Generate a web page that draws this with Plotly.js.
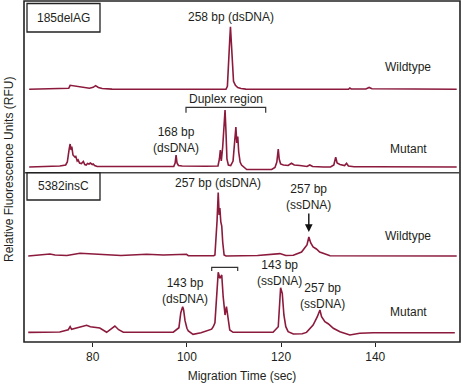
<!DOCTYPE html>
<html>
<head>
<meta charset="utf-8">
<script src="https://cdn.plot.ly/plotly-3.0.1.min.js"></script>
<style>html,body{margin:0;padding:0;background:#fff}#chart{width:461px;height:384px}</style>
</head>
<body>
<div id="chart"></div>
<script>
// ---- Data (migration time in sec, relative fluorescence, baseline = 0) ----
const del185WildTime = [66.5, 74.0, 74.9, 75.2, 76.0, 77.3, 78.5, 79.3, 80.1, 80.6, 81.2, 82.0, 84.1, 90, 100, 108.3, 108.6, 108.9, 109.1, 109.25, 109.45, 109.65, 109.9, 110.3, 110.8, 111.5, 112.5, 120, 134.3, 134.6, 134.9, 138.0, 138.7, 139.3, 145, 157.3];
const del185WildRFU  = [0, 0.3, 1, 4, 3.5, 2.3, 1.2, 1.0, 2.0, 3.6, 1.8, 0.8, 0.2, 0, 0, 0, 3, 25, 50, 62.6, 45, 20, 8, 4, 1.8, 0.8, 0.2, 0, 0, 1.2, 0.3, 0.3, 1.8, 0.5, 0.2, 0];

const del185MutTime = [66.5, 70, 73.0, 74.25, 74.6, 75.0, 75.2, 75.4, 75.55, 75.8, 76.2, 76.4, 76.7, 76.9, 77.2, 77.6, 78.0, 78.3, 78.6, 78.9, 79.2, 79.5, 79.9, 80.1, 80.4, 80.95, 85, 90, 97.2, 97.5, 97.7, 97.9, 98.2, 99, 100, 102.5, 104, 106.6, 106.9, 107.1, 107.3, 107.6, 107.9, 108.1, 108.3, 108.5, 108.8, 109.3, 109.8, 110.2, 110.4, 110.6, 110.8, 111.0, 111.3, 111.6, 112.2, 112.7, 118.0, 118.7, 119.1, 119.4, 119.6, 119.9, 120.5, 121.5, 122.2, 122.8, 124, 125.5, 126.1, 126.7, 129, 130.5, 131.2, 131.6, 131.9, 132.5, 133.5, 133.9, 134.3, 135.5, 137, 139.9, 157.3];
const del185MutRFU  = [0, 0.3, 1.0, 2, 5, 18, 23, 17, 20.5, 12, 10, 10.5, 6, 7, 4, 3.5, 5.5, 2.5, 2, 3.5, 3, 4, 2.5, 3, 1.5, 0.5, 0.5, 0.3, 0.5, 4, 12, 4, 1.5, 1, 0.8, 0.5, 0.7, 1, 8, 17, 6, 20, 45, 57, 35, 8, 2, 1.5, 6, 30, 40, 24, 30.5, 15, 5, 2, 0, -2.5, -2.5, -0.5, 5, 18, 8, 3, 2, 1.5, 3.7, 2, 1.5, 0.5, 2, 0.5, 0, 0, 2, 9.7, 4, 2.5, 1.5, 3.7, 1, 0.3, 0.2, 0.3, 0];

const ins5382WildTime = [66.3, 70.9, 72, 74.5, 77.3, 80, 83.7, 86, 91.45, 95, 99.9, 100.3, 105.7, 105.95, 106.4, 106.65, 106.85, 107.0, 107.2, 107.4, 107.6, 107.9, 108.3, 110, 115, 119.75, 121, 122.6, 124.0, 124.35, 125.0, 125.5, 125.9, 126.3, 126.8, 127.5, 128.2, 128.95, 129.7, 130.4, 157.3];
const ins5382WildRFU  = [0, 2, 1, 0.5, 2.7, 2, 0.7, 0.5, 1.7, 1, 1.7, 0.3, 0.3, 1, 35, 63.5, 41, 48, 34, 30, 14, 1, 0, 0.3, 0.5, 2.4, 0.5, 0.8, 3, 4, 8, 11, 19, 13, 9, 7, 4, 3, 1.5, 0.3, 0];

const ins5382MutTime = [66.3, 73.0, 74.8, 75.2, 75.5, 76.5, 78.7, 79.5, 80.1, 81.5, 82.95, 84.0, 84.7, 85.5, 86.5, 97.1, 98.3, 98.7, 99.1, 99.3, 99.6, 100.0, 100.3, 101.3, 103, 105.25, 105.6, 105.95, 106.3, 106.65, 107.0, 107.4, 107.7, 108.1, 108.4, 108.8, 109.1, 109.8, 112, 118.3, 119.4, 119.9, 120.25, 120.6, 121.0, 121.5, 122.6, 124.5, 125.4, 126.8, 127.7, 128.25, 128.6, 129.3, 130, 131.1, 132.5, 134.6, 136.7, 139.6, 156.9];
const ins5382MutRFU  = [0.3, 0.7, 3, 6, 3.4, 4.5, 7.4, 6, 5.4, 4.7, 0.4, 4, 6.7, 3, 0.5, 0.6, 5, 20, 26, 22.7, 12, 4.4, 1.7, -1.6, 0, 3.5, 6, 10, 40, 60.4, 54.4, 57.7, 36, 17.7, 26, 14.4, 2.7, 0.4, 0.5, 0.5, 6, 45, 39.4, 17.7, 6, 1, -1.3, -1, 0.3, 7.7, 16, 22.7, 16, 11, 9, 4.4, 1, -2.3, -0.5, 0, 0];

const xTicks = [80, 100, 120, 140];

// ---- Styling / layout helpers ----
const FONT = 'Liberation Sans, Arial, Helvetica, sans-serif';
const LINE = '#8b1a3c';
const TXT = '#231f20';
const WILD_OFFSET_TOP = 77.7;   // vertical stacking of wildtype trace above mutant
const WILD_OFFSET_BOT = 76.7;

function px(x, y) { return {x: (x - 24) / 436, y: (342 - y) / 341}; }
function shift(arr, d) { return arr.map(v => v + d); }

const traces = [
  {x: del185WildTime, y: shift(del185WildRFU, WILD_OFFSET_TOP), yaxis: 'y'},
  {x: del185MutTime, y: del185MutRFU, yaxis: 'y'},
  {x: ins5382WildTime, y: shift(ins5382WildRFU, WILD_OFFSET_BOT), yaxis: 'y2'},
  {x: ins5382MutTime, y: ins5382MutRFU, yaxis: 'y2'}
].map(t => Object.assign(t, {type: 'scatter', mode: 'lines', line: {color: LINE, width: 1.6}, hoverinfo: 'skip', showlegend: false}));

function label(text, cx, cy) {
  const p = px(cx, cy);
  return {text: text, xref: 'paper', yref: 'paper', x: p.x, y: p.y, xanchor: 'center', yanchor: 'middle',
          showarrow: false, font: {family: FONT, size: 12, color: TXT}};
}

const annotations = [
  label('185delAG', 63.5, 18),
  label('258 bp (dsDNA)', 230.7, 16.7),
  label('Wildtype', 408.3, 67.3),
  label('Duplex region', 225.7, 99.3),
  label('168 bp<br>(dsDNA)', 175.7, 140),
  label('Mutant', 408.3, 149),
  label('5382insC', 63.5, 186),
  label('257 bp (dsDNA)', 217.5, 182.8),
  label('257 bp<br>(ssDNA)', 308.3, 197.3),
  label('Wildtype', 408.3, 235.7),
  label('143 bp<br>(dsDNA)', 185.2, 290.5),
  label('143 bp<br>(ssDNA)', 279.3, 273.3),
  label('257 bp<br>(ssDNA)', 322.3, 296),
  label('Mutant', 408.3, 311.7)
];
// Y-axis title (rotated)
(function () {
  const p = px(9, 170);
  annotations.push({text: 'Relative Fluorescence Units (RFU)', xref: 'paper', yref: 'paper', x: p.x, y: p.y,
    xanchor: 'center', yanchor: 'middle', textangle: -90, showarrow: false, font: {family: FONT, size: 12, color: TXT}});
})();
// Arrow to the 257 bp ssDNA peak
(function () {
  const p = px(308.8, 232);
  annotations.push({text: '', xref: 'paper', yref: 'paper', x: p.x, y: p.y, ax: 0, ay: -20,
    showarrow: true, arrowhead: 2, arrowsize: 1.1, arrowwidth: 1.4, arrowcolor: '#111'});
})();

function rectPx(x0, y0, x1, y1, w) {
  const a = px(x0, y1), b = px(x1, y0);
  return {type: 'rect', xref: 'paper', yref: 'paper', x0: a.x, y0: a.y, x1: b.x, y1: b.y,
          line: {color: '#222', width: w}, fillcolor: 'rgba(0,0,0,0)'};
}
function pathPx(points, w) {
  const d = points.map((pt, i) => { const p = px(pt[0], pt[1]); return (i ? 'L' : 'M') + p.x + ',' + p.y; }).join(' ');
  return {type: 'path', xref: 'paper', yref: 'paper', path: d, line: {color: '#333', width: w}};
}

const DIV = (342 - 172.7) / 341;
const shapes = [
  {type: 'rect', xref: 'paper', yref: 'paper', x0: 0, y0: 0, x1: 1, y1: 1, line: {color: '#222', width: 1.6}},
  {type: 'line', xref: 'paper', yref: 'paper', x0: 0, x1: 1, y0: DIV, y1: DIV, line: {color: '#444', width: 1.6}},
  rectPx(27, 3.5, 100, 32, 1.3),
  rectPx(27, 172.7, 100, 200, 1.3),
  pathPx([[186, 112.7], [186, 107.3], [265.7, 107.3], [265.7, 112.7]], 1.2),
  pathPx([[211.7, 271], [211.7, 267.3], [237.7, 267.3], [237.7, 271]], 1.2)
];

const layout = {
  width: 461, height: 384,
  margin: {l: 24, r: 1, t: 1, b: 42},
  paper_bgcolor: '#fff', plot_bgcolor: '#fff',
  font: {family: FONT, size: 12, color: TXT},
  xaxis: {
    anchor: 'y2',
    range: [65.4, 158], tickvals: xTicks, ticktext: xTicks.map(String),
    ticks: 'outside', ticklen: 4, tickwidth: 1, tickcolor: '#222',
    showgrid: false, zeroline: false, showline: false,
    tickfont: {family: FONT, size: 12, color: TXT},
    title: {text: 'Migration Time (sec)', font: {family: FONT, size: 12, color: TXT}, standoff: 8}
  },
  yaxis: {domain: [DIV, 1], range: [-5.7, 166], showticklabels: false, ticks: '', showgrid: false, zeroline: false, showline: false},
  yaxis2: {domain: [0, DIV], range: [-9.3, 160], showticklabels: false, ticks: '', showgrid: false, zeroline: false, showline: false},
  annotations: annotations,
  shapes: shapes
};

Plotly.newPlot('chart', traces, layout, {staticPlot: true, displayModeBar: false});
</script>
</body>
</html>
